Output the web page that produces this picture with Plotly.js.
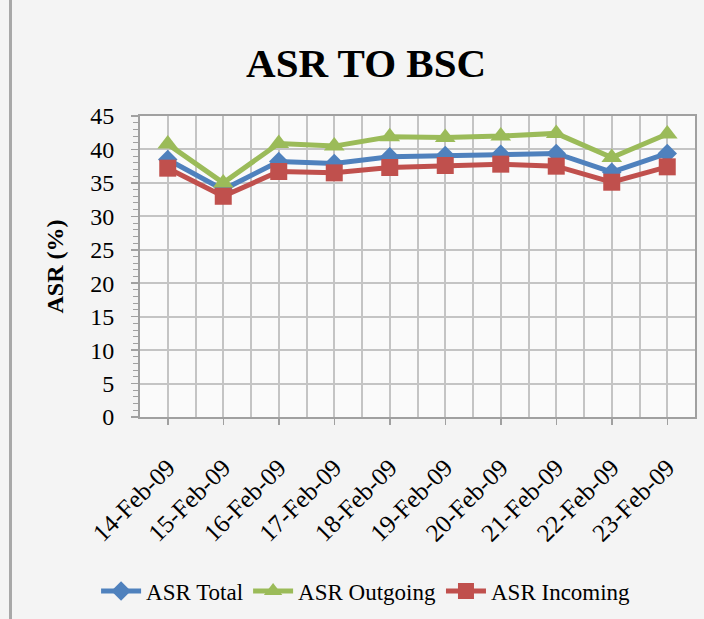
<!DOCTYPE html>
<html>
<head>
<meta charset="utf-8">
<script src="https://cdn.plot.ly/plotly-3.0.1.min.js"></script>
<style>
  html, body { margin: 0; padding: 0; background: #f4f4f4; }
  #wrap { position: relative; width: 704px; height: 619px; }
  #chart { width: 704px; height: 619px; }
  #edge { position: absolute; left: 9px; top: 0; width: 3px; height: 619px; background: #a8a8a8; pointer-events: none; }
</style>
</head>
<body>
<div id="wrap"><div id="chart"></div><div id="edge"></div></div>
<script>
const dates = ["14-Feb-09","15-Feb-09","16-Feb-09","17-Feb-09","18-Feb-09","19-Feb-09","20-Feb-09","21-Feb-09","22-Feb-09","23-Feb-09"];
const asrTotal    = [38.5, 34.0, 38.2, 37.9, 38.9, 39.1, 39.3, 39.4, 36.6, 39.4];
const asrOutgoing = [40.8, 35.0, 40.9, 40.5, 41.9, 41.8, 42.0, 42.4, 38.8, 42.3];
const asrIncoming = [37.2, 33.0, 36.7, 36.5, 37.3, 37.6, 37.8, 37.5, 35.1, 37.4];
const yTicks = [0, 5, 10, 15, 20, 25, 30, 35, 40, 45];

const idx = dates.map((d, i) => i);
const serif = "Liberation Serif, Times New Roman, serif";

const traces = [
  { name: "ASR Total", x: idx, y: asrTotal, mode: "lines+markers",
    line: { color: "#4f81bd", width: 5 },
    marker: { symbol: "diamond", size: 15, color: "#4f81bd" } },
  { name: "ASR Outgoing", x: idx, y: asrOutgoing, mode: "lines+markers",
    line: { color: "#9bbb59", width: 5 },
    marker: { symbol: "triangle-up", size: 18, color: "#9bbb59" } },
  { name: "ASR Incoming", x: idx, y: asrIncoming, mode: "lines+markers",
    line: { color: "#c0504d", width: 5 },
    marker: { symbol: "square", size: 17, color: "#c0504d" } }
];

const layout = {
  width: 704, height: 619,
  paper_bgcolor: "rgba(0,0,0,0)",
  plot_bgcolor: "#fafafa",
  margin: { l: 140, r: 9, t: 116, b: 202 },
  font: { family: serif, color: "#000", size: 22 },
  title: { text: "<b>ASR TO BSC</b>", font: { family: serif, size: 41, color: "#000" },
           xref: "container", x: 0.52, xanchor: "center",
           yref: "container", y: 0.898, yanchor: "middle" },
  showlegend: true,
  legend: { orientation: "h", xref: "container", x: 0.52, xanchor: "center",
            yref: "container", y: 0.045, yanchor: "middle",
            font: { family: serif, size: 23, color: "#000" },
            bgcolor: "rgba(0,0,0,0)", itemwidth: 40, tracegroupgap: 0 },
  xaxis: {
    range: [-0.5, 9.5], tickmode: "array", tickvals: idx, ticktext: dates,
    tickangle: -45, tickfont: { family: serif, size: 25 },
    ticks: "outside", ticklen: 6, tickwidth: 1.5, tickcolor: "#a0a0a0",
    ticklabelstandoff: 18,
    showgrid: true, gridcolor: "#c4c4c4", gridwidth: 2,
    minor: { tickmode: "linear", tick0: -0.5, dtick: 1, showgrid: true, gridcolor: "#c4c4c4", gridwidth: 2, ticks: "" },
    showline: true, mirror: true, linecolor: "#a0a0a0", linewidth: 2,
    zeroline: false, fixedrange: true
  },
  yaxis: {
    range: [0, 45], tickmode: "array", tickvals: yTicks,
    title: { text: "<b>ASR (%)</b>", font: { family: serif, size: 24, color: "#000" }, standoff: 20 },
    tickfont: { family: serif, size: 24 },
    ticks: "outside", ticklen: 7, tickwidth: 1.5, tickcolor: "#a0a0a0",
    ticklabelstandoff: 12,
    minor: { dtick: 1, ticks: "outside", ticklen: 5, tickwidth: 1, tickcolor: "#a0a0a0", showgrid: false },
    showgrid: true, gridcolor: "#c4c4c4", gridwidth: 2,
    showline: true, mirror: true, linecolor: "#a0a0a0", linewidth: 2,
    zeroline: false, fixedrange: true
  },
  yaxis2: {
    overlaying: "y", side: "left", range: [0, 45], tickmode: "array", tickvals: yTicks,
    showticklabels: false, ticks: "inside", ticklen: 7, tickwidth: 1.5, tickcolor: "#a0a0a0",
    minor: { dtick: 1, ticks: "inside", ticklen: 7, tickwidth: 1, tickcolor: "#a0a0a0", showgrid: false },
    showgrid: false, zeroline: false, showline: false, fixedrange: true
  }
};

Plotly.newPlot("chart", traces, layout, { displayModeBar: false, staticPlot: true });
</script>
</body>
</html>
